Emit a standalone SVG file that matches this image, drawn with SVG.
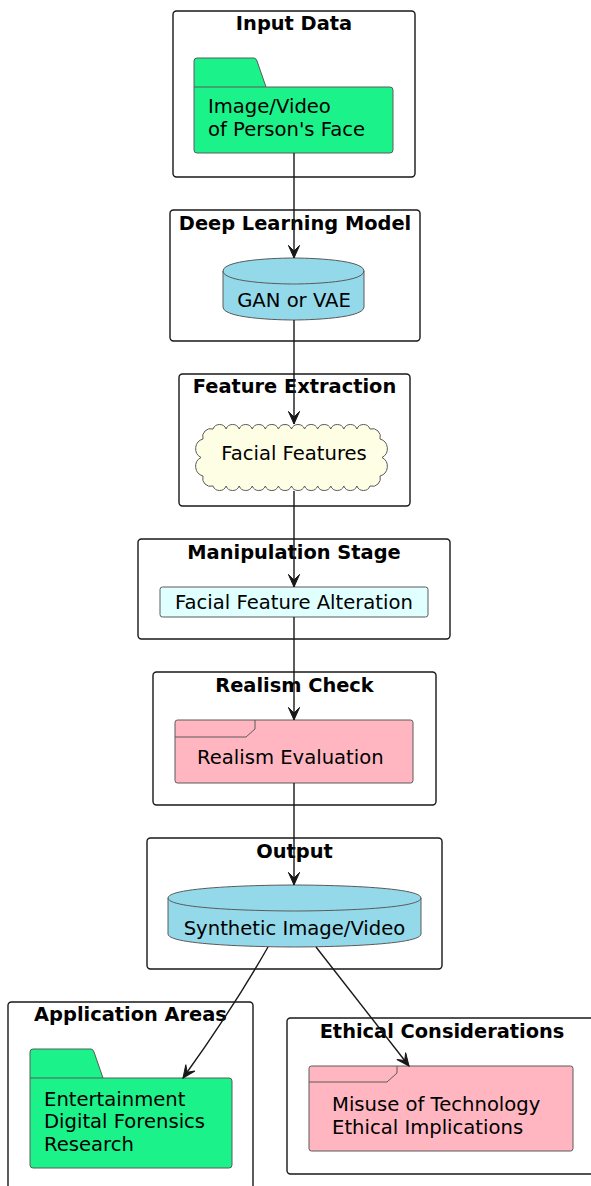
<svg xmlns="http://www.w3.org/2000/svg" width="591" height="1186" viewBox="0 0 591 1186">
  <style>
    .pkg { fill: #FFFFFF; stroke: #181818; stroke-width: 1.4; }
    .title { font-family: "DejaVu Sans", "Liberation Sans", sans-serif; font-weight: bold; font-size: 19.4px; fill: #000000; text-anchor: middle; }
    .lbl { font-family: "DejaVu Sans", "Liberation Sans", sans-serif; font-size: 19.6px; fill: #000000; }
    .mid { text-anchor: middle; }
    .shape { stroke: #5A5A5A; stroke-width: 1; }
    .green { fill: #1BF28A; }
    .blue { fill: #93D9EA; }
    .ivory { fill: #FEFEE4; }
    .cyan { fill: #E0FFFF; }
    .pink { fill: #FFB6C1; }
    .edge { fill: none; stroke: #181818; stroke-width: 1.4; }
  </style>
  <defs>
    <marker id="arrow" markerUnits="userSpaceOnUse" markerWidth="16" markerHeight="16" viewBox="-14 -8 16 16" refX="0" refY="0" orient="auto">
      <path d="M0,0 L-12.6,-5.6 L-7,0 L-12.6,5.6 Z" fill="#181818" stroke="#181818" stroke-width="1"/>
    </marker>
  </defs>

  <rect width="591" height="1186" fill="#FFFFFF"/>

  <!-- Input Data -->
  <g id="input-data">
    <rect class="pkg" x="173" y="11" width="242" height="166" rx="3.5"/>
    <text class="title" x="294" y="30">Input Data</text>
    <g id="image-video">
      <path class="shape green" d="M194,61 Q194,58 197,58 L254,58 Q256,58 257,61 L266,87 L390,87 Q393,87 393,90 L393,150 Q393,153 390,153 L197,153 Q194,153 194,150 Z"/>
      <line class="shape" x1="194" y1="87" x2="266" y2="87"/>
      <text class="lbl" x="208" y="113">Image/Video</text>
      <text class="lbl" x="208" y="135.5">of Person's Face</text>
    </g>
  </g>

  <!-- Deep Learning Model -->
  <g id="deep-learning-model">
    <rect class="pkg" x="170" y="210" width="250" height="131" rx="3.5"/>
    <text class="title" x="295" y="230">Deep Learning Model</text>
    <g id="gan-vae">
      <path class="shape blue" d="M223,271 C223,258 293.5,258 293.5,258 C293.5,258 364,258 364,271 L364,307 C364,320 293.5,320 293.5,320 C293.5,320 223,320 223,307 Z"/>
      <path class="shape" fill="none" d="M223,271 C223,284 293.5,284 293.5,284 C293.5,284 364,284 364,271"/>
      <text class="lbl mid" x="294" y="307">GAN or VAE</text>
    </g>
  </g>

  <!-- Feature Extraction -->
  <g id="feature-extraction">
    <rect class="pkg" x="179" y="374" width="231" height="132" rx="3.5"/>
    <text class="title" x="294.5" y="393">Feature Extraction</text>
    <g id="facial-features">
      <!-- cloud outline: small arcs along a rounded contour -->
      <path class="shape ivory" d="M213,429
        A7,7 0 0 1 226.08,429 A7,7 0 0 1 239.17,429 A7,7 0 0 1 252.25,429 A7,7 0 0 1 265.33,429
        A7,7 0 0 1 278.42,429 A7,7 0 0 1 291.5,429 A7,7 0 0 1 304.58,429 A7,7 0 0 1 317.67,429
        A7,7 0 0 1 330.75,429 A7,7 0 0 1 343.83,429 A7,7 0 0 1 356.92,429 A7,7 0 0 1 370,429
        A8,8 0 0 1 380,439 A10,10 0 0 1 382,457.5 A10,10 0 0 1 380,476 A8,8 0 0 1 370,486
        A7,7 0 0 1 356.92,486 A7,7 0 0 1 343.83,486 A7,7 0 0 1 330.75,486 A7,7 0 0 1 317.67,486
        A7,7 0 0 1 304.58,486 A7,7 0 0 1 291.5,486 A7,7 0 0 1 278.42,486 A7,7 0 0 1 265.33,486
        A7,7 0 0 1 252.25,486 A7,7 0 0 1 239.17,486 A7,7 0 0 1 226.08,486 A7,7 0 0 1 213,486
        A8,8 0 0 1 203,476 A10,10 0 0 1 201,457.5 A10,10 0 0 1 203,439 A8,8 0 0 1 213,429 Z"/>
      <text class="lbl mid" x="294" y="460">Facial Features</text>
    </g>
  </g>

  <!-- Manipulation Stage -->
  <g id="manipulation-stage">
    <rect class="pkg" x="138" y="539" width="312" height="100" rx="3.5"/>
    <text class="title" x="294" y="559">Manipulation Stage</text>
    <g id="feature-alteration">
      <rect class="shape cyan" x="160" y="587" width="268" height="30" rx="2.5"/>
      <text class="lbl mid" x="294" y="609">Facial Feature Alteration</text>
    </g>
  </g>

  <!-- Realism Check -->
  <g id="realism-check">
    <rect class="pkg" x="153" y="672" width="283" height="133" rx="3.5"/>
    <text class="title" x="294.5" y="692">Realism Check</text>
    <g id="realism-evaluation">
      <rect class="shape pink" x="175" y="720" width="238" height="63" rx="2.5"/>
      <path class="shape" fill="none" d="M175,737 L246,737 L255,729 L255,720"/>
      <text class="lbl" x="197" y="764">Realism Evaluation</text>
    </g>
  </g>

  <!-- Output -->
  <g id="output">
    <rect class="pkg" x="147" y="838" width="295" height="131" rx="3.5"/>
    <text class="title" x="294.5" y="858">Output</text>
    <g id="synthetic-media">
      <path class="shape blue" d="M168,898 C168,885 294.5,885 294.5,885 C294.5,885 421,885 421,898 L421,934 C421,947 294.5,947 294.5,947 C294.5,947 168,947 168,934 Z"/>
      <path class="shape" fill="none" d="M168,898 C168,911 294.5,911 294.5,911 C294.5,911 421,911 421,898"/>
      <text class="lbl mid" x="294.5" y="935">Synthetic Image/Video</text>
    </g>
  </g>

  <!-- Application Areas -->
  <g id="application-areas">
    <rect class="pkg" x="8" y="1002" width="245" height="200" rx="3.5"/>
    <text class="title" x="130.5" y="1021">Application Areas</text>
    <g id="applications">
      <path class="shape green" d="M30,1052 Q30,1049 33,1049 L91,1049 Q93,1049 94,1052 L103,1078 L229,1078 Q232,1078 232,1081 L232,1165 Q232,1168 229,1168 L33,1168 Q30,1168 30,1165 Z"/>
      <line class="shape" x1="30" y1="1078" x2="103" y2="1078"/>
      <text class="lbl" x="44" y="1105.5">Entertainment</text>
      <text class="lbl" x="44" y="1128">Digital Forensics</text>
      <text class="lbl" x="44" y="1150.5">Research</text>
    </g>
  </g>

  <!-- Ethical Considerations -->
  <g id="ethical-considerations">
    <rect class="pkg" x="287" y="1018" width="310" height="156" rx="3.5"/>
    <text class="title" x="442" y="1038">Ethical Considerations</text>
    <g id="ethics">
      <rect class="shape pink" x="309" y="1066" width="264" height="85" rx="2.5"/>
      <path class="shape" fill="none" d="M309,1082 L387,1082 L397,1073 L397,1066"/>
      <text class="lbl" x="332" y="1111">Misuse of Technology</text>
      <text class="lbl" x="332" y="1133.5">Ethical Implications</text>
    </g>
  </g>

  <!-- Connectors -->
  <g id="connectors">
    <line class="edge" x1="294" y1="153" x2="294" y2="258" marker-end="url(#arrow)"/>
    <line class="edge" x1="294" y1="320" x2="294" y2="424" marker-end="url(#arrow)"/>
    <line class="edge" x1="294" y1="491" x2="294" y2="587" marker-end="url(#arrow)"/>
    <line class="edge" x1="294" y1="617" x2="294" y2="720" marker-end="url(#arrow)"/>
    <line class="edge" x1="294" y1="783" x2="294" y2="885" marker-end="url(#arrow)"/>
    <path class="edge" d="M268,947 Q232,1010 183,1078" marker-end="url(#arrow)"/>
    <line class="edge" x1="316" y1="947" x2="409" y2="1066" marker-end="url(#arrow)"/>
  </g>
</svg>
